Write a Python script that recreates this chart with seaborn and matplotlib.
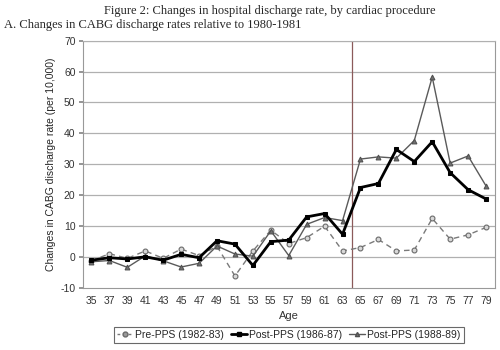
import matplotlib
matplotlib.use("Agg")
import matplotlib.pyplot as plt
import seaborn as sns
import numpy as np
from matplotlib.lines import Line2D

ages = ["35", "37", "39", "41", "43", "45", "47", "49", "51", "53", "55", "57",
        "59", "61", "63", "65", "67", "69", "71", "73", "75", "77", "79"]
pre_pps = [-1.2, 1.1, -0.4, 2.0, -0.4, 2.6, 0.5, 3.5, -6.1, 2.0, 8.7, 4.4,
           6.3, 10.0, 2.0, 3.1, 5.7, 2.0, 2.3, 12.5, 5.8, 7.2, 9.6]
post_86 = [-1.0, -0.2, -0.6, 0.1, -1.0, 0.9, -0.2, 5.3, 4.2, -2.7, 5.0, 5.5,
           13.0, 14.1, 7.4, 22.5, 23.8, 34.8, 30.9, 37.3, 27.3, 21.8, 18.8]
post_88 = [-1.5, -1.1, -3.3, 0.4, -1.2, -3.2, -2.0, 3.6, 1.0, 0.3, 8.5, 0.5,
           10.6, 12.8, 11.8, 31.7, 32.4, 32.0, 37.7, 58.2, 30.4, 32.7, 23.0]
series_names = ["Pre-PPS (1982-83)", "Post-PPS (1986-87)", "Post-PPS (1988-89)"]
yticks = [-10, 0, 10, 20, 30, 40, 50, 60, 70]

sns.set_theme(style="white")
plt.rcParams['font.family'] = ['Liberation Sans', 'DejaVu Sans']

fig = plt.figure(figsize=(5, 3.5), dpi=100)
ax = fig.add_axes([0.165, 0.177, 0.825, 0.707])

for yv in yticks[1:]:
    ax.axhline(yv, color="#b0b0b0", lw=0.9, zorder=0)

sns.lineplot(x=ages, y=pre_pps, ax=ax, sort=False, color="#7a7a7a", lw=1.0,
             linestyle=(0, (4, 3)), marker="o", markersize=3.5,
             markerfacecolor="#d8d8d8", markeredgecolor="#6a6a6a", markeredgewidth=0.8,
             zorder=3)
sns.lineplot(x=ages, y=post_86, ax=ax, sort=False, color="black", lw=2.0,
             marker="s", markersize=3.5, markerfacecolor="black",
             markeredgecolor="black", zorder=5)
sns.lineplot(x=ages, y=post_88, ax=ax, sort=False, color="#5a5a5a", lw=1.0,
             marker="^", markersize=3.5, markerfacecolor="#707070",
             markeredgecolor="#505050", zorder=4)

n = len(ages)
ax.set_xlim(-0.5, n - 0.5)
ax.set_ylim(-10, 70)
ax.set_yticks(yticks)
ax.set_yticklabels([str(v) for v in yticks], fontsize=7.5, color="#333333")
ax.set_xticks(range(n))
ax.set_xticklabels(ages, fontsize=7.5, color="#333333")
ax.set_xticks(np.arange(-0.5, n, 1.0), minor=True)
ax.tick_params(axis="x", which="major", length=0, pad=6)
ax.tick_params(axis="x", which="minor", length=3, color="#888888", direction="out")
ax.tick_params(axis="y", which="major", length=3, color="#888888", direction="out", pad=2, left=True)

ax.axvline(14.5, color="#8b5a5a", lw=0.9, zorder=2)

for side in ["left", "bottom", "right", "top"]:
    ax.spines[side].set_color("#999999")
    ax.spines[side].set_linewidth(0.8)
ax.spines["top"].set_color("#b0b0b0")

ax.set_xlabel("Age", fontsize=8, labelpad=3, color="#333333")
ax.set_ylabel("Changes in CABG discharge rate (per 10,000)", fontsize=7.5, labelpad=3)

handles = [
    Line2D([], [], color="#7a7a7a", lw=1.0, linestyle=(0, (2, 2)), marker="o", markersize=3.5,
           markerfacecolor="#9a9a9a", markeredgecolor="#6a6a6a"),
    Line2D([], [], color="black", lw=2.0, marker="s", markersize=3),
    Line2D([], [], color="#5a5a5a", lw=1.0, marker="^", markersize=3,
           markerfacecolor="#707070", markeredgecolor="#505050"),
]
leg = ax.legend(handles, series_names, loc="center", bbox_to_anchor=(0.5, -0.19),
                ncol=3, fontsize=7.5, frameon=True, fancybox=False, handlelength=1.6,
                handletextpad=0.2, columnspacing=0.6, borderpad=0.3)
leg.get_frame().set_edgecolor("#444444")
leg.get_frame().set_linewidth(0.8)

fig.text(0.54, 0.968, "Figure 2: Changes in hospital discharge rate, by cardiac procedure",
         ha="center", va="center", fontsize=9, family=["Liberation Serif", "DejaVu Serif"])
fig.text(0.008, 0.928, "A. Changes in CABG discharge rates relative to 1980-1981",
         ha="left", va="center", fontsize=9, family=["Liberation Serif", "DejaVu Serif"])

fig.savefig("out.png", dpi=100, facecolor="white")
